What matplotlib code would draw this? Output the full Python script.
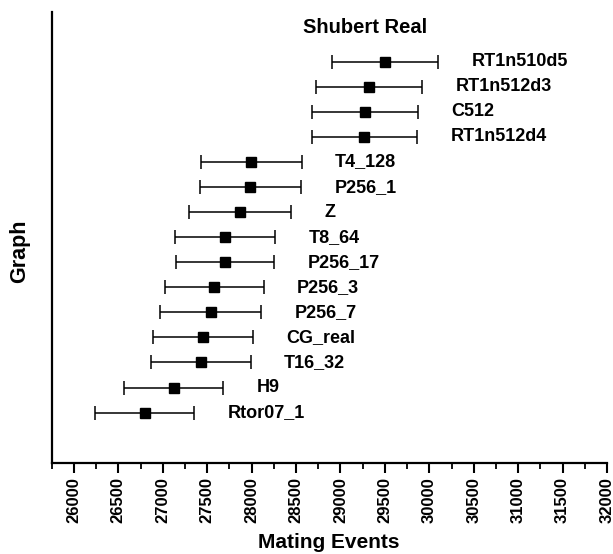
import numpy as np
import matplotlib
matplotlib.use("Agg")
import matplotlib.pyplot as plt

plt.rcParams['font.family'] = ['Liberation Sans', 'DejaVu Sans']
plt.rcParams['font.weight'] = 'bold'

# data (top row first)
names = ['RT1n510d5', 'RT1n512d3', 'C512', 'RT1n512d4', 'T4_128', 'P256_1', 'Z',
         'T8_64', 'P256_17', 'P256_3', 'P256_7', 'CG_real', 'T16_32', 'H9', 'Rtor07_1']
means = [29502, 29325, 29277, 29270, 27996, 27985, 27868,
         27701, 27701, 27582, 27538, 27450, 27430, 27121, 26796]
errs = [600, 597, 594, 591, 567, 570, 572,
        567, 550, 553, 567, 562, 560, 558, 554]
title_text = 'Shubert Real'

n = len(names)
ypos = np.arange(n, 0, -1)  # top row highest

W, H = 613, 554
fig = plt.figure(figsize=(W/100, H/100), dpi=100)
ax = fig.add_axes([51.7/W, 1-462.7/H, (607-51.7)/W, (462.7-11.7)/H])

ax.errorbar(means, ypos, xerr=errs, fmt='s', color='black', ms=6.8,
            elinewidth=1.1, capsize=5, capthick=1.1)

for m, e, y, name in zip(means, errs, ypos, names):
    ax.text(m + e + 376, y, name, fontsize=13, fontweight='bold', va='center', ha='left')

ax.text(28582, n + 1.35, title_text, fontsize=14.5, fontweight='bold', va='center', ha='left')

ax.set_xlim(25750, 32000)
ax.set_ylim(-1, n + 2)
ax.set_xticks(np.arange(26000, 32001, 500))
ax.set_xticks(np.arange(25750, 32001, 250), minor=True)
ax.set_xticklabels([str(v) for v in range(26000, 32001, 500)], rotation=90,
                   fontsize=12, fontweight='bold')
ax.set_yticks([])
ax.tick_params(axis='x', which='major', length=7, width=1.5, direction='out', pad=3.5)
ax.tick_params(axis='x', which='minor', length=4, width=1.3, direction='out')

for s in ['top', 'right']:
    ax.spines[s].set_visible(False)
for s in ['left', 'bottom']:
    ax.spines[s].set_linewidth(1.6)

fig.text(329/W, 1-548.5/H, 'Mating Events', fontsize=15, fontweight='bold',
         ha='center', va='baseline')
fig.text(20/W, 1-251/H, 'Graph', fontsize=15.5, fontweight='bold',
         rotation=90, ha='center', va='center')

fig.savefig('out.png', dpi=100)
